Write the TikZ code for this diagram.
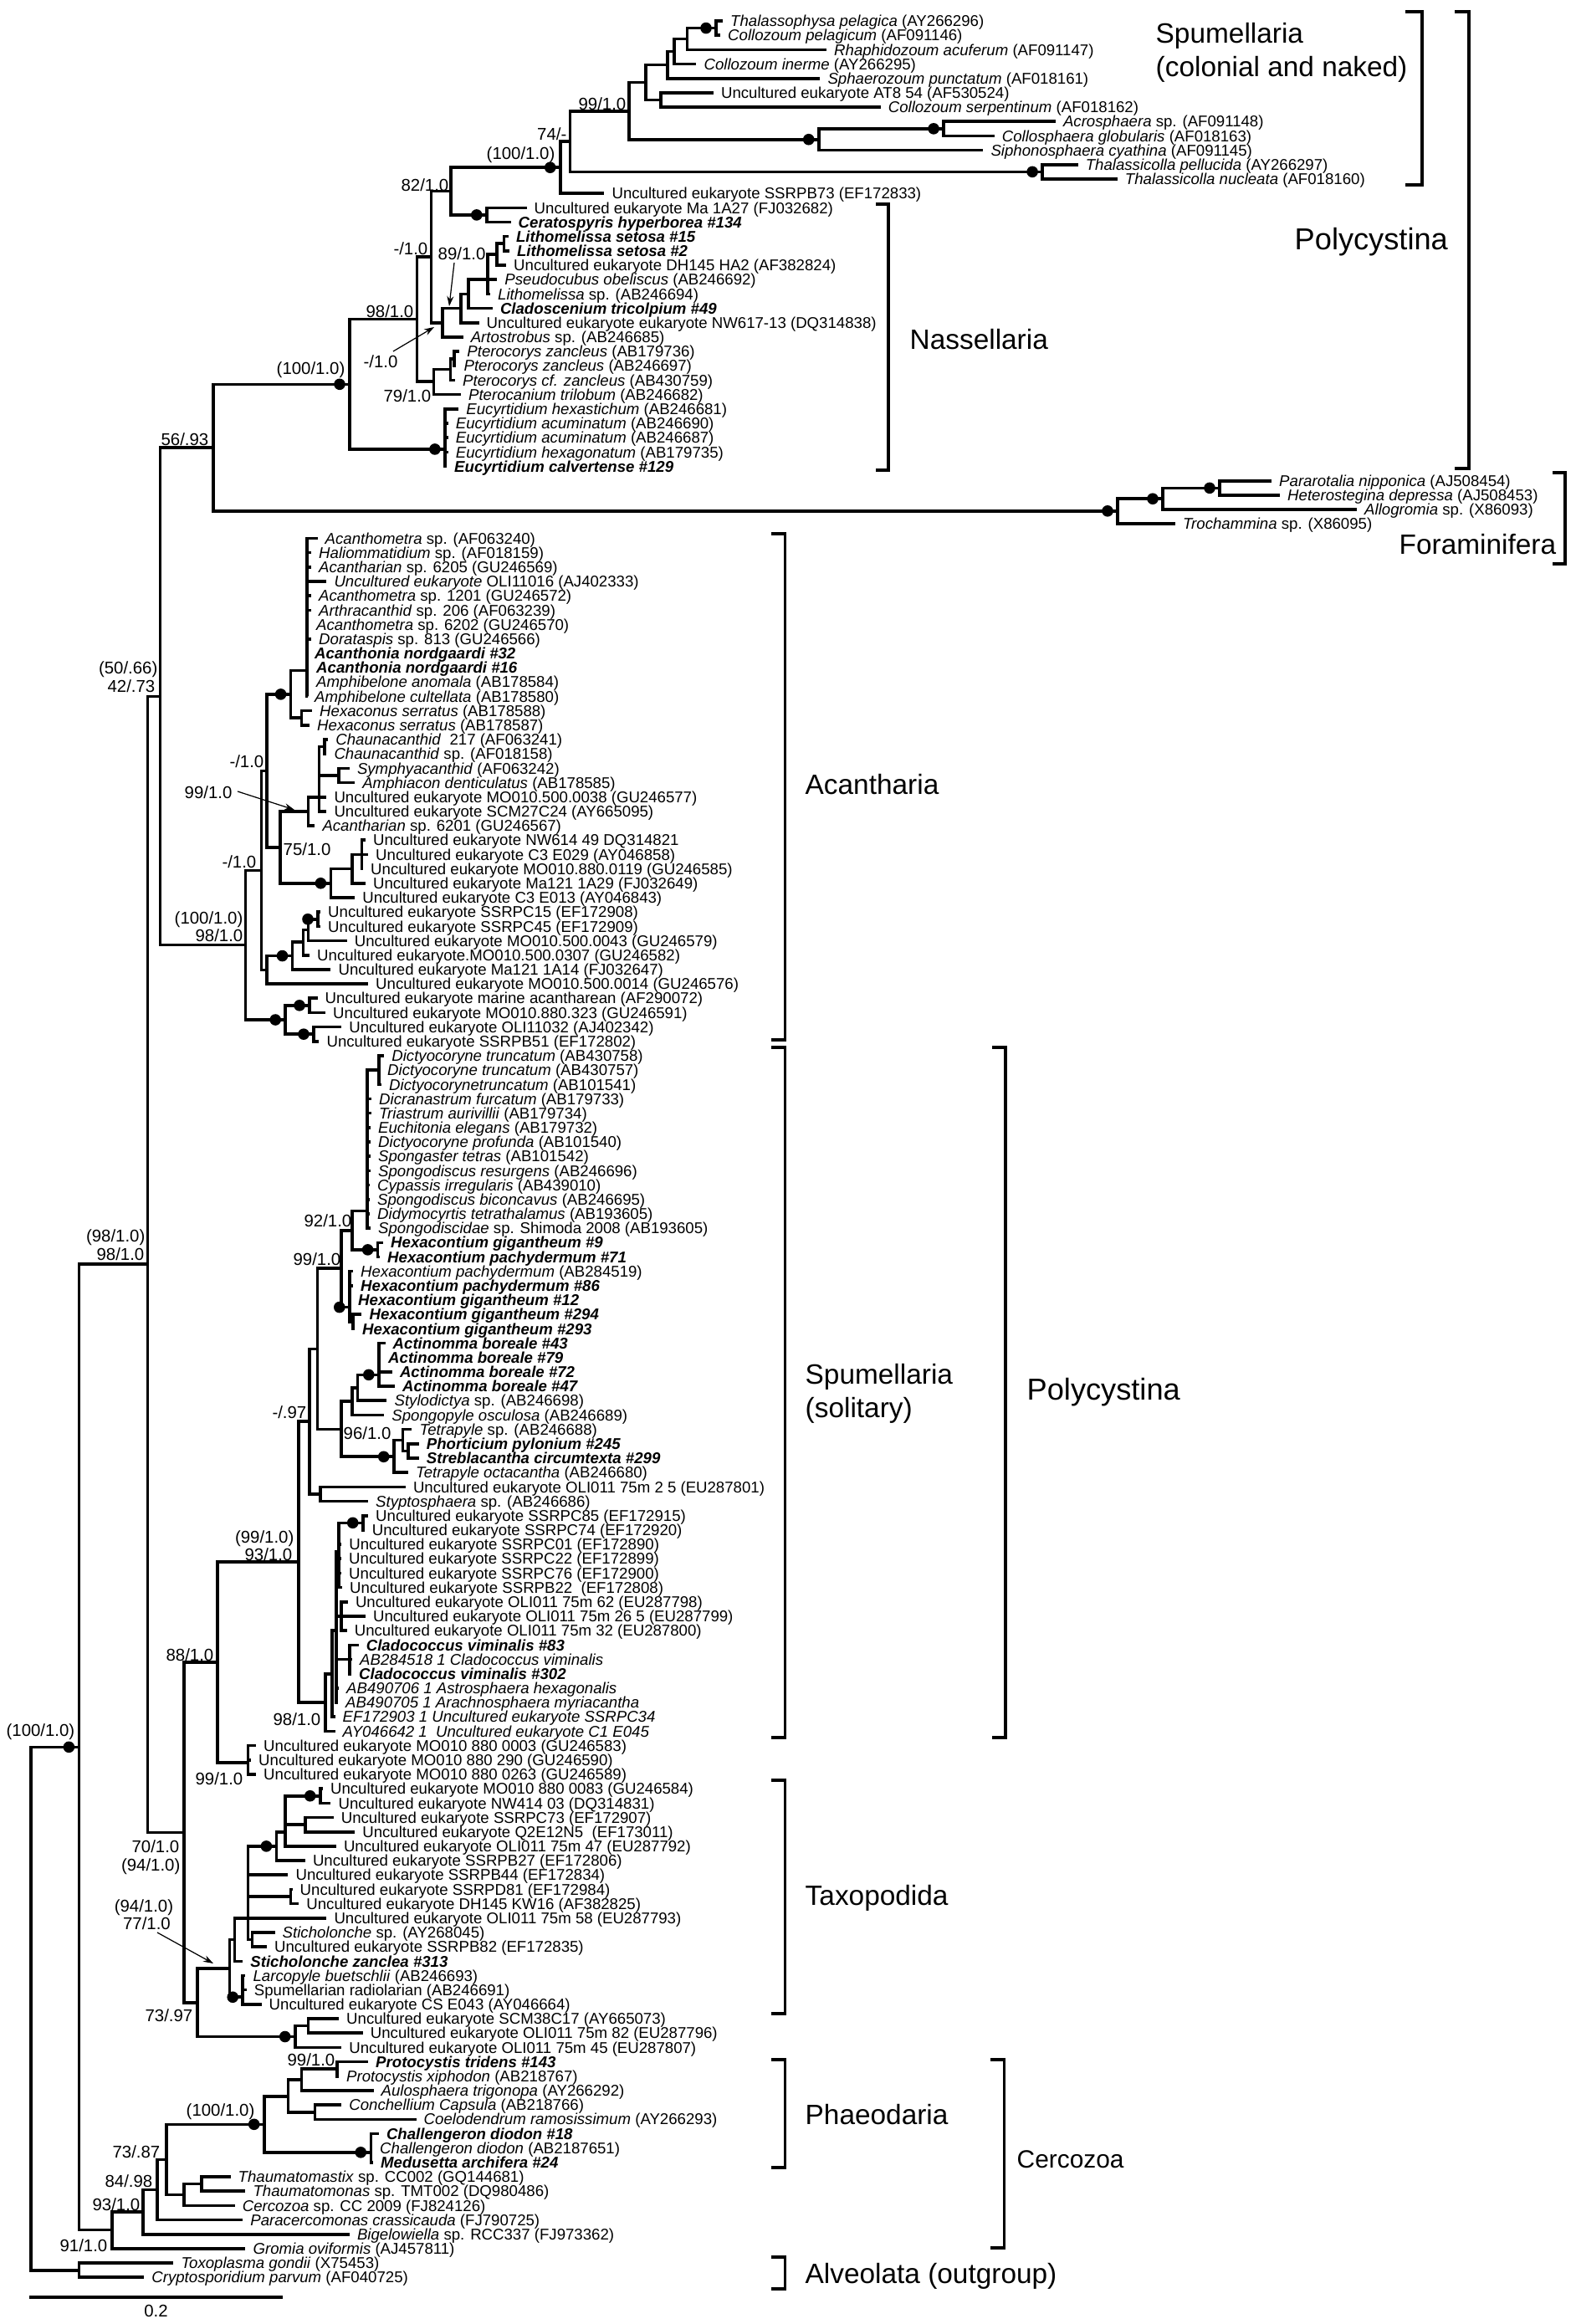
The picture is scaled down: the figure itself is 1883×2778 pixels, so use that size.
\documentclass[tikz,border=0pt]{standalone}
\usepackage{fontspec}
\setmainfont{Liberation Sans}
\usetikzlibrary{arrows.meta}
\newcommand{\ry}[1]{{25+17.18*(#1)}}
\newcommand{\lfont}{\fontsize{5.3}{6}\selectfont}
\newcommand{\bsfont}{\fontsize{5.8}{6.5}\selectfont}
\newcommand{\grfont}{\fontsize{9.5}{11}\selectfont}
\newcommand{\ital}[1]{\textit{#1}}
\newcommand{\bital}[1]{\textbf{\textit{#1}}}
\newcommand{\leafat}[3]{\coordinate (l#1) at (#2,\ry{#1});\node[leaf] (t#1) at (l#1) {#3};}
\tikzset{
  leaf/.style={anchor=west, inner sep=0pt, xshift=0.85mm, font=\lfont, text height=3.8pt, text depth=0pt},
  br/.style={line width=0.36mm},
  brk/.style={line width=0.34mm},
  bs/.style={anchor=east, inner sep=0pt, font=\bsfont, text height=4.1pt, text depth=0pt},
  grp/.style={anchor=west, inner sep=0pt, font=\grfont, text height=6.8pt, text depth=0pt},
  arr/.style={-{Stealth[length=1.2mm,width=0.8mm]}, line width=0.35pt},
}
\begin{document}
\begin{tikzpicture}[x=0.1mm, y=-0.1mm]
\useasboundingbox (0,0) rectangle (1883,2778);

% leaves: index, branch end, label
\leafat{0}{864}{\ital{Thalassophysa pelagica} (AY266296)}
\leafat{1}{861}{\ital{Collozoum pelagicum} (AF091146)}
\leafat{2}{988}{\ital{Rhaphidozoum acuferum} (AF091147)}
\leafat{3}{832.4}{\ital{Collozoum inerme} (AY266295)}
\leafat{4}{980.3}{\ital{Sphaerozoum punctatum} (AF018161)}
\leafat{5}{852.9}{Uncultured eukaryote AT8 54 (AF530524)}
\leafat{6}{1052.6}{\ital{Collozoum serpentinum} (AF018162)}
\leafat{7}{1261.8}{\ital{Acrosphaera} sp. (AF091148)}
\leafat{8}{1188.7}{\ital{Collosphaera globularis} (AF018163)}
\leafat{9}{1175.3}{\ital{Siphonosphaera cyathina} (AF091145)}
\leafat{10}{1288.6}{\ital{Thalassicolla pellucida} (AY266297)}
\leafat{11}{1335.7}{\ital{Thalassicolla nucleata} (AF018160)}
\leafat{12}{722.4}{Uncultured eukaryote SSRPB73 (EF172833)}
\leafat{13}{629.5}{Uncultured eukaryote Ma 1A27 (FJ032682)}
\leafat{14}{610.5}{\bital{Ceratospyris hyperborea \#134}}
\leafat{15}{607.8}{\bital{Lithomelissa setosa \#15}}
\leafat{16}{608.9}{\bital{Lithomelissa setosa \#2}}
\leafat{17}{605}{Uncultured eukaryote DH145 HA2 (AF382824)}
\leafat{18}{594.2}{\ital{Pseudocubus obeliscus} (AB246692)}
\leafat{19}{586}{\ital{Lithomelissa} sp. (AB246694)}
\leafat{20}{588.8}{\bital{Cladoscenium tricolpium \#49}}
\leafat{21}{572.5}{Uncultured eukaryote eukaryote NW617-13 (DQ314838)}
\leafat{22}{553.6}{\ital{Artostrobus} sp. (AB246685)}
\leafat{23}{549.2}{\ital{Pterocorys zancleus} (AB179736)}
\leafat{24}{545.4}{\ital{Pterocorys zancleus} (AB246697)}
\leafat{25}{544}{\ital{Pterocorys cf. zancleus} (AB430759)}
\leafat{26}{550.9}{\ital{Pterocanium trilobum} (AB246682)}
\leafat{27}{548.2}{\ital{Eucyrtidium hexastichum} (AB246681)}
\leafat{28}{535.7}{\ital{Eucyrtidium acuminatum} (AB246690)}
\leafat{29}{535.7}{\ital{Eucyrtidium acuminatum} (AB246687)}
\leafat{30}{535.7}{\ital{Eucyrtidium hexagonatum} (AB179735)}
\leafat{31}{534}{\bital{Eucyrtidium calvertense \#129}}
\leafat{32}{1520}{\ital{Pararotalia nipponica} (AJ508454)}
\leafat{33}{1530}{\ital{Heterostegina depressa} (AJ508453)}
\leafat{34}{1622}{\ital{Allogromia} sp. (X86093)}
\leafat{35}{1405}{\ital{Trochammina} sp. (X86095)}
\leafat{36}{379.5}{\ital{Acanthometra} sp. (AF063240)}
\leafat{37}{372}{\ital{Haliommatidium} sp. (AF018159)}
\leafat{38}{372}{\ital{Acantharian} sp. 6205 (GU246569)}
\leafat{39}{390.3}{\ital{Uncultured eukaryote} OLI11016 (AJ402333)}
\leafat{40}{372}{\ital{Acanthometra} sp. 1201 (GU246572)}
\leafat{41}{372}{\ital{Arthracanthid} sp. 206 (AF063239)}
\leafat{42}{369}{\ital{Acanthometra} sp. 6202 (GU246570)}
\leafat{43}{372}{\ital{Dorataspis} sp. 813 (GU246566)}
\leafat{44}{367}{\bital{Acanthonia nordgaardi \#32}}
\leafat{45}{369}{\bital{Acanthonia nordgaardi \#16}}
\leafat{46}{369}{\ital{Amphibelone anomala} (AB178584)}
\leafat{47}{367}{\ital{Amphibelone cultellata} (AB178580)}
\leafat{48}{373}{\ital{Hexaconus serratus} (AB178588)}
\leafat{49}{370}{\ital{Hexaconus serratus} (AB178587)}
\leafat{50}{392.2}{\ital{Chaunacanthid}~ 217 (AF063241)}
\leafat{51}{390.3}{\ital{Chaunacanthid} sp. (AF018158)}
\leafat{52}{417.8}{\ital{Symphyacanthid} (AF063242)}
\leafat{53}{424.1}{\ital{Amphiacon denticulatus} (AB178585)}
\leafat{54}{390.3}{Uncultured eukaryote MO010.500.0038 (GU246577)}
\leafat{55}{390.3}{Uncultured eukaryote SCM27C24 (AY665095)}
\leafat{56}{376.3}{\ital{Acantharian} sp. 6201 (GU246567)}
\leafat{57}{436.9}{Uncultured eukaryote NW614 49 DQ314821}
\leafat{58}{440}{Uncultured eukaryote C3 E029 (AY046858)}
\leafat{59}{434}{Uncultured eukaryote MO010.880.0119 (GU246585)}
\leafat{60}{436.9}{Uncultured eukaryote Ma121 1A29 (FJ032649)}
\leafat{61}{424.1}{Uncultured eukaryote C3 E013 (AY046843)}
\leafat{62}{383}{Uncultured eukaryote SSRPC15 (EF172908)}
\leafat{63}{383}{Uncultured eukaryote SSRPC45 (EF172909)}
\leafat{64}{414.6}{Uncultured eukaryote MO010.500.0043 (GU246579)}
\leafat{65}{370}{Uncultured eukaryote.MO010.500.0307 (GU246582)}
\leafat{66}{395.4}{Uncultured eukaryote Ma121 1A14 (FJ032647)}
\leafat{67}{440}{Uncultured eukaryote MO010.500.0014 (GU246576)}
\leafat{68}{379.5}{Uncultured eukaryote marine acantharean (AF290072)}
\leafat{69}{389}{Uncultured eukaryote MO010.880.323 (GU246591)}
\leafat{70}{408.2}{Uncultured eukaryote OLI11032 (AJ402342)}
\leafat{71}{381.4}{Uncultured eukaryote SSRPB51 (EF172802)}
\leafat{72}{459.2}{\ital{Dictyocoryne truncatum} (AB430758)}
\leafat{73}{454}{\ital{Dictyocoryne truncatum} (AB430757)}
\leafat{74}{456}{\ital{Dictyocorynetruncatum} (AB101541)}
\leafat{75}{444}{\ital{Dicranastrum furcatum} (AB179733)}
\leafat{76}{444}{\ital{Triastrum aurivillii} (AB179734)}
\leafat{77}{443}{\ital{Euchitonia elegans} (AB179732)}
\leafat{78}{443}{\ital{Dictyocoryne profunda} (AB101540)}
\leafat{79}{443}{\ital{Spongaster tetras} (AB101542)}
\leafat{80}{443}{\ital{Spongodiscus resurgens} (AB246696)}
\leafat{81}{442}{\ital{Cypassis irregularis} (AB439010)}
\leafat{82}{442}{\ital{Spongodiscus biconcavus} (AB246695)}
\leafat{83}{442}{\ital{Didymocyrtis tetrathalamus} (AB193605)}
\leafat{84}{443}{\ital{Spongodiscidae} sp. Shimoda 2008 (AB193605)}
\leafat{85}{458}{\bital{Hexacontium gigantheum \#9}}
\leafat{86}{454}{\bital{Hexacontium pachydermum \#71}}
\leafat{87}{422}{\ital{Hexacontium pachydermum} (AB284519)}
\leafat{88}{422}{\bital{Hexacontium pachydermum \#86}}
\leafat{89}{419}{\bital{Hexacontium gigantheum \#12}}
\leafat{90}{432.4}{\bital{Hexacontium gigantheum \#294}}
\leafat{91}{424}{\bital{Hexacontium gigantheum \#293}}
\leafat{92}{460.5}{\bital{Actinomma boreale \#43}}
\leafat{93}{455}{\bital{Actinomma boreale \#79}}
\leafat{94}{468.8}{\bital{Actinomma boreale \#72}}
\leafat{95}{472}{\bital{Actinomma boreale \#47}}
\leafat{96}{462.4}{\ital{Stylodictya} sp. (AB246698)}
\leafat{97}{459.2}{\ital{Spongopyle osculosa} (AB246689)}
\leafat{98}{492.4}{\ital{Tetrapyle} sp. (AB246688)}
\leafat{99}{500.7}{\bital{Phorticium pylonium \#245}}
\leafat{100}{500.7}{\bital{Streblacantha circumtexta \#299}}
\leafat{101}{487.9}{\ital{Tetrapyle octacantha} (AB246680)}
\leafat{102}{484.8}{Uncultured eukaryote OLI011 75m 2 5 (EU287801)}
\leafat{103}{440}{\ital{Styptosphaera} sp. (AB246686)}
\leafat{104}{440}{Uncultured eukaryote SSRPC85 (EF172915)}
\leafat{105}{435.6}{Uncultured eukaryote SSRPC74 (EF172920)}
\leafat{106}{408.2}{Uncultured eukaryote SSRPC01 (EF172890)}
\leafat{107}{408}{Uncultured eukaryote SSRPC22 (EF172899)}
\leafat{108}{408}{Uncultured eukaryote SSRPC76 (EF172900)}
\leafat{109}{409}{Uncultured eukaryote SSRPB22~ (EF172808)}
\leafat{110}{415.8}{Uncultured eukaryote OLI011 75m 62 (EU287798)}
\leafat{111}{436.9}{Uncultured eukaryote OLI011 75m 26 5 (EU287799)}
\leafat{112}{414.6}{Uncultured eukaryote OLI011 75m 32 (EU287800)}
\leafat{113}{428.6}{\bital{Cladococcus viminalis \#83}}
\leafat{114}{421}{\ital{AB284518 1 Cladococcus viminalis}}
\leafat{115}{420}{\bital{Cladococcus viminalis \#302}}
\leafat{116}{405}{\ital{AB490706 1 Astrosphaera hexagonalis}}
\leafat{117}{404}{\ital{AB490705 1 Arachnosphaera myriacantha}}
\leafat{118}{400.5}{\ital{EF172903 1 Uncultured eukaryote SSRPC34}}
\leafat{119}{400.5}{\ital{AY046642 1~ Uncultured eukaryote C1 E045}}
\leafat{120}{306}{Uncultured eukaryote MO010 880 0003 (GU246583)}
\leafat{121}{300}{Uncultured eukaryote MO010 880 290 (GU246590)}
\leafat{122}{306}{Uncultured eukaryote MO010 880 0263 (GU246589)}
\leafat{123}{385.9}{Uncultured eukaryote MO010 880 0083 (GU246584)}
\leafat{124}{395.4}{Uncultured eukaryote NW414 03 (DQ314831)}
\leafat{125}{398.6}{Uncultured eukaryote SSRPC73 (EF172907)}
\leafat{126}{424.1}{Uncultured eukaryote Q2E12N5~ (EF173011)}
\leafat{127}{401.8}{Uncultured eukaryote OLI011 75m 47 (EU287792)}
\leafat{128}{364.8}{Uncultured eukaryote SSRPB27 (EF172806)}
\leafat{129}{344.4}{Uncultured eukaryote SSRPB44 (EF172834)}
\leafat{130}{349.5}{Uncultured eukaryote SSRPD81 (EF172984)}
\leafat{131}{357.2}{Uncultured eukaryote DH145 KW16 (AF382825)}
\leafat{132}{390.3}{Uncultured eukaryote OLI011 75m 58 (EU287793)}
\leafat{133}{328.5}{\ital{Sticholonche} sp. (AY268045)}
\leafat{134}{318.9}{Uncultured eukaryote SSRPB82 (EF172835)}
\leafat{135}{290.2}{\bital{Sticholonche zanclea \#313}}
\leafat{136}{293.4}{\ital{Larcopyle buetschlii} (AB246693)}
\leafat{137}{294.7}{Spumellarian radiolarian (AB246691)}
\leafat{138}{312.5}{Uncultured eukaryote CS E043 (AY046664)}
\leafat{139}{405}{Uncultured eukaryote SCM38C17 (AY665073)}
\leafat{140}{433.7}{Uncultured eukaryote OLI011 75m 82 (EU287796)}
\leafat{141}{408.2}{Uncultured eukaryote OLI011 75m 45 (EU287807)}
\leafat{142}{440}{\bital{Protocystis tridens \#143}}
\leafat{143}{405}{\ital{Protocystis xiphodon} (AB218767)}
\leafat{144}{446.5}{\ital{Aulosphaera trigonopa} (AY266292)}
\leafat{145}{408.2}{\ital{Conchellium Capsula} (AB218766)}
\leafat{146}{497.5}{\ital{Coelodendrum ramosissimum} (AY266293)}
\leafat{147}{452.8}{\bital{Challengeron diodon \#18}}
\leafat{148}{445}{\ital{Challengeron diodon} (AB2187651)}
\leafat{149}{446}{\bital{Medusetta archifera \#24}}
\leafat{150}{275.5}{\ital{Thaumatomastix} sp. CC002 (GQ144681)}
\leafat{151}{293.4}{\ital{Thaumatomonas} sp. TMT002 (DQ980486)}
\leafat{152}{280.6}{\ital{Cercozoa} sp. CC 2009 (FJ824126)}
\leafat{153}{290.2}{\ital{Paracercomonas crassicauda} (FJ790725)}
\leafat{154}{417.8}{\ital{Bigelowiella} sp. RCC337 (FJ973362)}
\leafat{155}{293.4}{\ital{Gromia oviformis} (AJ457811)}
\leafat{156}{207.3}{\ital{Toxoplasma gondii} (X75453)}
\leafat{157}{172.2}{\ital{Cryptosporidium parvum} (AF040725)}

% internal nodes
\foreach \n/\x/\r in {
  nA/856/0.5, nB/821.4/1.25, nC/805.7/2.125, nD/797.8/3.06, nE/790/5.5,
  nF/771.9/4.28, nG/1128.1/7.5, nH/978.7/8.25, nI/752.2/6.27, nJ/1246.1/10.5,
  nK/681.5/8.38, nL/669.7/10.2, nN/581.8/13.5, nM/539/11.85,
  nUa/602.4/15.5, nUb/594.2/16.25, nUc/583/18, nUd/560/19, nUe/550.9/20,
  nS/529.2/21, nP/515.6/16.4, nWa/542.7/23.5, nW/538.4/24.25, nV/518.3/25.1,
  nR/498.3/20.76, nX/531.9/29.8, nY/418/25.28,
  nFC/1458/32.5, nFB/1390/33.25, nFA/1336/34.1, nZ/255/29.7,
  nAW/366.7/45.2, nHx/360.4/48.5, nAV/347.6/46.85, nCh/387.8/50.5,
  nSy/405/52.5, nAI/381.4/54, nAH/368.6/55, nAM/432.4/58, nAL/421/59,
  nAK/395.4/60, nAG/334.8/57.5, nAF/318.9/52.18, nAS/380/62.5,
  nAR/368.6/63.25, nAQ/362.3/64.1, nAP/349.5/65.05, nAO/318.9/66.03,
  nAD/312.5/59.1, nAT/370/68.5, nAU/375/70.5, nAE/341.2/69.5,
  nAC/293.4/64.3, nAA/191.3/47,
  nBO/452.8/73, nBN/438.8/82.8, nBP/451.6/85.5, nBM/421/84.15,
  nBR/422.2/90.5, nBQ/417.8/89.5, nBJ/408.2/86.8, nBU/452.8/94.2,
  nBV/427.3/95.1, nBS/421/96.05, nBX/487.9/99.5, nBW/481.5/98.75,
  nBT/470.7/99.9, nBK/408.2/98, nBI/379.5/92.4, nBL/382.7/102.5,
  nBG/370/97.45, nCE/433.7/104.5, nCC/405/106.5, nBZ/408.2/111,
  nCD/417.8/114, nCB/401.8/112, nCA/396.7/115, nBF/389/117,
  nBE/357.2/107.2, nMO/296.6/121.2, nBC/260.2/114.2,
  nTa/382.7/123.5, nTb/364.8/125.5, nCI/341.2/126, nCJ/330.4/127,
  nCM/347.6/130.5, nCP/301.5/133.5, nCK/296.6/132, nCN/280.6/133.5,
  nCH/290.2/137.5, nCF/274.3/135.5, nCR/368.6/139.5, nCQ/352.7/140.25,
  nBD/236/137.9, nAY/220/126.05, nAB/176.5/86.5,
  nDD/403.1/142.5, nDB/360.4/143.25, nDC/376.3/145.5, nCZ/344.4/144.4,
  nDA/443.3/148.3, nCW/315.7/146.35, nCY/241/150.5, nCX/220/151.25,
  nCV/199/148.8, nCU/188.2/150.9, nCT/171/152.45, nCS/134/153.7,
  nAZ/94.4/120.1, nBB/94.4/156.5, nRt/37/138.3}
  \coordinate (\n) at (\x,\ry{\r});

% branches: parent |- child
\foreach \p/\cs in {
  nA/{l0,l1}, nB/{nA,l2}, nC/{nB,l3}, nD/{nC,l4}, nE/{l5,l6}, nF/{nD,nE},
  nG/{l7,l8}, nH/{nG,l9}, nI/{nF,nH}, nJ/{l10,l11}, nK/{nI,nJ}, nL/{nK,l12},
  nM/{nL,nN}, nN/{l13,l14}, nUa/{l15,l16}, nUb/{nUa,l17}, nUc/{nUb,l18,l19},
  nUd/{nUc,l20}, nUe/{nUd,l21}, nS/{nUe,l22}, nP/{nM,nS},
  nWa/{l23,l24}, nW/{nWa,l25}, nV/{nW,l26}, nR/{nP,nV},
  nX/{l27,l28,l29,l30,l31}, nY/{nR,nX},
  nFC/{l32,l33}, nFB/{nFC,l34}, nFA/{nFB,l35}, nZ/{nY,nFA},
  nAW/{l36,l37,l38,l39,l40,l41,l42,l43,l44,l45,l46,l47}, nHx/{l48,l49},
  nAV/{nAW,nHx}, nCh/{l50,l51}, nSy/{l52,l53}, nAI/{nCh,nSy,l54,l55},
  nAH/{nAI,l56}, nAM/{l57,l58,l59}, nAL/{nAM,l60}, nAK/{nAL,l61},
  nAG/{nAH,nAK}, nAF/{nAV,nAG}, nAS/{l62,l63}, nAR/{nAS,l64},
  nAQ/{nAR,l65}, nAP/{nAQ,l66}, nAO/{nAP,l67}, nAD/{nAF,nAO},
  nAT/{l68,l69}, nAU/{l70,l71}, nAE/{nAT,nAU}, nAC/{nAD,nAE}, nAA/{nZ,nAC},
  nBO/{l72,l73,l74}, nBN/{nBO,l75,l76,l77,l78,l79,l80,l81,l82,l83,l84},
  nBP/{l85,l86}, nBM/{nBN,nBP}, nBR/{l90,l91}, nBQ/{l87,l88,l89,nBR},
  nBJ/{nBM,nBQ}, nBU/{l92,l93,l94,l95}, nBV/{nBU,l96}, nBS/{nBV,l97},
  nBX/{l99,l100}, nBW/{l98,nBX}, nBT/{nBW,l101}, nBK/{nBS,nBT},
  nBI/{nBJ,nBK}, nBL/{l102,l103}, nBG/{nBI,nBL},
  nCE/{l104,l105}, nCC/{nCE,l106,l107,l108,l109}, nBZ/{l110,l111,l112},
  nCD/{l113,l114,l115}, nCB/{nCC,nBZ,nCD,l116,l117}, nCA/{nCB,l118},
  nBF/{nCA,l119}, nBE/{nBG,nBF}, nMO/{l120,l121,l122}, nBC/{nBE,nMO},
  nTa/{l123,l124}, nTb/{l125,l126}, nCI/{nTa,nTb,l127}, nCJ/{nCI,l128},
  nCM/{l130,l131}, nCP/{l133,l134}, nCK/{nCJ,l129,nCM,l132,nCP},
  nCN/{nCK,l135}, nCH/{l136,l137,l138}, nCF/{nCN,nCH},
  nCR/{l139,l140}, nCQ/{nCR,l141}, nBD/{nCF,nCQ}, nAY/{nBC,nBD}, nAB/{nAA,nAY},
  nDD/{l142,l143}, nDB/{nDD,l144}, nDC/{l145,l146}, nCZ/{nDB,nDC},
  nDA/{l147,l148,l149}, nCW/{nCZ,nDA}, nCY/{l150,l151}, nCX/{nCY,l152},
  nCV/{nCW,nCX}, nCU/{nCV,l153}, nCT/{nCU,l154}, nCS/{nCT,l155},
  nAZ/{nAB,nCS}, nBB/{l156,l157}, nRt/{nAZ,nBB}}
  {\foreach \c in \cs {\draw[br] (\p) |- (\c);}}

% supported nodes
\foreach \d in {nA,nG,nH,nJ,nL,nN,nX,nY,nFC,nFB,nFA,nAV,nAK,nAS,nAP,nAT,nAU,nAE,
  nBP,nBQ,nBU,nBT,nCE,nTa,nCJ,nCH,nCQ,nDA,nCW,nAZ}
  \fill ([xshift=-1.2mm]\d) circle (0.68mm);

% support values
\node[bs] (b1) at (749,124) {99/1.0};
\node[bs] (b2) at (678,160) {74/-};
\node[bs] (b3) at (664,183) {(100/1.0)};
\node[bs] (b4) at (537,221) {82/1.0};
\node[bs] (b5) at (512,297) {-/1.0};
\node[bs, anchor=center] (b6) at (552,303) {89/1.0};
\node[bs] (b7) at (495,372) {98/1.0};
\node[bs, anchor=center] (b8) at (455,432) {-/1.0};
\node[bs] (b9) at (516,473) {79/1.0};
\node[bs] (b10) at (413,440) {(100/1.0)};
\node[bs] (b11) at (250,525) {56/.93};
\node[bs] (b12) at (189,798) {(50/.66)};
\node[bs] (b13) at (186,820) {42/.73};
\node[bs] (b14) at (316,910) {-/1.0};
\node[bs, anchor=center] (b15) at (249,947) {99/1.0};
\node[bs, anchor=west] (b16) at (338,1015) {75/1.0};
\node[bs] (b17) at (307,1030) {-/1.0};
\node[bs] (b18) at (291,1097) {(100/1.0)};
\node[bs] (b19) at (291,1118) {98/1.0};
\node[bs] (b20) at (421,1459) {92/1.0};
\node[bs] (b21) at (174,1477) {(98/1.0)};
\node[bs] (b22) at (173,1499) {98/1.0};
\node[bs] (b23) at (408,1505) {99/1.0};
\node[bs] (b24) at (367,1688) {-/.97};
\node[bs, anchor=west] (b25) at (410,1713) {96/1.0};
\node[bs] (b26) at (352,1837) {(99/1.0)};
\node[bs] (b27) at (350,1858) {93/1.0};
\node[bs] (b28) at (256,1978) {88/1.0};
\node[bs] (b29) at (384,2055) {98/1.0};
\node[bs] (b30) at (90,2068) {(100/1.0)};
\node[bs] (b31) at (291,2126) {99/1.0};
\node[bs] (b32) at (215,2207) {70/1.0};
\node[bs] (b33) at (216,2229) {(94/1.0)};
\node[bs, anchor=center] (b34) at (172,2278) {(94/1.0)};
\node[bs, anchor=center] (b35) at (175.5,2299) {77/1.0};
\node[bs] (b36) at (231,2409) {73/.97};
\node[bs] (b37) at (401,2462) {99/1.0};
\node[bs] (b38) at (305,2522) {(100/1.0)};
\node[bs] (b39) at (192,2572) {73/.87};
\node[bs] (b40) at (183,2607) {84/.98};
\node[bs] (b41) at (168,2635) {93/1.0};
\node[bs] (b42) at (129,2684) {91/1.0};

% pointer arrows
\coordinate (a1s) at (543,314); \coordinate (a1e) at (537,366);
\coordinate (a2s) at (470,420); \coordinate (a2e) at (519,391);
\coordinate (a3s) at (284,946); \coordinate (a3e) at (352,968);
\coordinate (a4s) at (188,2310); \coordinate (a4e) at (255,2347);
\draw[arr] (a1s) -- (a1e);
\draw[arr] (a2s) -- (a2e);
\draw[arr] (a3s) -- (a3e);
\draw[arr] (a4s) -- (a4e);

% clade brackets
\draw[brk] (1680,14) -- (1700,14) -- (1700,221) -- (1680,221);
\draw[brk] (1739,14) -- (1756,14) -- (1756,560) -- (1739,560);
\draw[brk] (1047,244) -- (1062,244) -- (1062,562) -- (1047,562);
\draw[brk] (1856,565) -- (1871,565) -- (1871,674) -- (1856,674);
\draw[brk] (922,638) -- (938.5,638) -- (938.5,1243) -- (922,1243);
\draw[brk] (922,1252) -- (938.5,1252) -- (938.5,2077) -- (922,2077);
\draw[brk] (1186,1252) -- (1202,1252) -- (1202,2077) -- (1186,2077);
\draw[brk] (922,2128) -- (938.5,2128) -- (938.5,2407) -- (922,2407);
\draw[brk] (922,2462) -- (938.5,2462) -- (938.5,2591) -- (922,2591);
\draw[brk] (1184,2462) -- (1200.5,2462) -- (1200.5,2687) -- (1184,2687);
\draw[brk] (922,2698) -- (938.5,2698) -- (938.5,2736) -- (922,2736);

% clade names
\node[grp] (gSpc) at (1381,40) {Spumellaria};
\node[grp] (gSpc2) at (1381,80) {(colonial and naked)};
\node[grp, font=\fontsize{10.3}{12}\selectfont] (gPol1) at (1547,287) {Polycystina};
\node[grp] (gNas) at (1087,406) {Nassellaria};
\node[grp] (gFor) at (1672,651) {Foraminifera};
\node[grp] (gAca) at (962,938) {Acantharia};
\node[grp] (gSps) at (962,1643) {Spumellaria};
\node[grp] (gSps2) at (962,1683) {(solitary)};
\node[grp, font=\fontsize{10.3}{12}\selectfont] (gPol2) at (1227,1662) {Polycystina};
\node[grp] (gTax) at (962,2266) {Taxopodida};
\node[grp] (gPha) at (962,2528) {Phaeodaria};
\node[grp, font=\fontsize{8.5}{10}\selectfont, text height=6pt] (gCer) at (1215,2581) {Cercozoa};
\node[grp] (gAlv) at (962,2718) {Alveolata (outgroup)};

% scale bar
\coordinate (sb0) at (35,2746); \coordinate (sb1) at (338,2746);
\draw[br] (sb0) -- (sb1);
\node[bs, anchor=center] (sbl) at (186.5,2762) {0.2};
\end{tikzpicture}
\end{document}
